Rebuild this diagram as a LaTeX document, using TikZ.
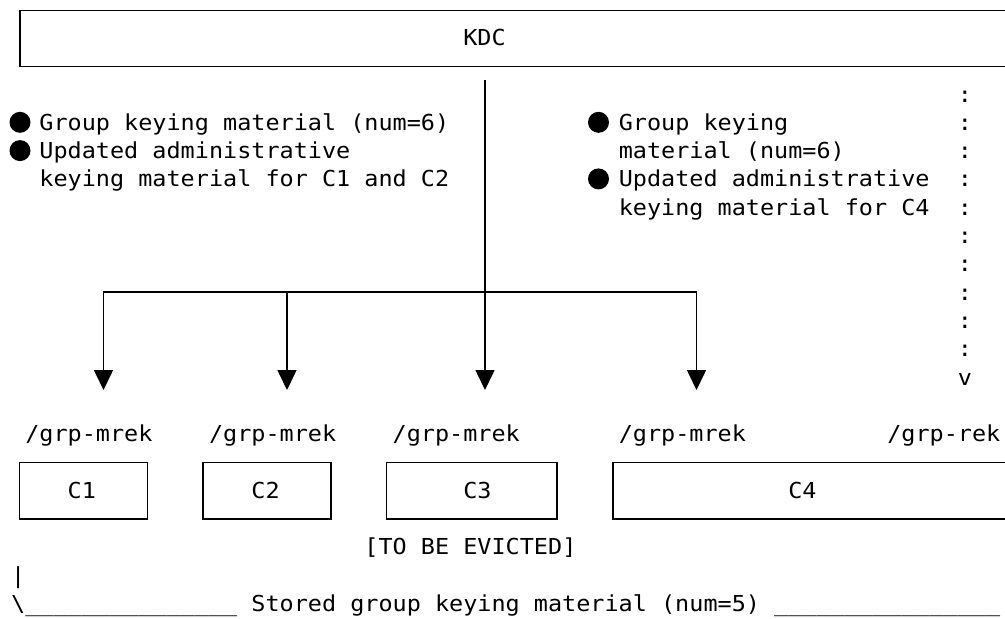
\documentclass[tikz,border=0pt]{standalone}
\usepackage{fontspec}
\newfontfamily\monofam[FakeStretch=1.0668]{DejaVu Sans Mono}
\usetikzlibrary{arrows.meta}
\newcommand\GX[1]{11+14.13*(#1)}
\newcommand\GY[1]{102+28.3*(#1)}
\begin{document}
\begin{tikzpicture}[x=1pt,y=-1pt,
  txt/.style={font=\monofam\fontsize{22}{28}\selectfont, inner sep=0pt, anchor=base west},
  box/.style={draw, line width=1.5pt, inner sep=0pt, anchor=north west},
  conn/.style={line width=1.6pt},
  tipA/.style={-{Triangle[width=19pt,length=20pt]}},
  tipB/.style={{Triangle[width=19pt,length=20pt]}-{Triangle[width=19pt,length=20pt]}},
  bul/.style={circle, fill=black, draw=none, inner sep=0pt, minimum size=21pt}]
\useasboundingbox (0,0) rectangle (1005,619);
% boxes
\node[box, minimum width=1000pt, minimum height=56.2pt] (kdc) at (19,9.5) {};
\node[txt] (kdclabel) at ({\GX{32}},{\GY{-2}}) {KDC};
\node[box, minimum width=128.2pt, minimum height=56.6pt] (c1) at (18.5,461.7) {};
\node[box, minimum width=127.7pt, minimum height=56.6pt] (c2) at (202.3,461.7) {};
\node[box, minimum width=170.3pt, minimum height=56.6pt] (c3) at (385.7,461.7) {};
\node[box, minimum width=420pt, minimum height=56.6pt] (c4) at (612.3,461.7) {};
\node[txt] (c1label) at ({\GX{4}},{\GY{14}}) {C1};
\node[txt] (c2label) at ({\GX{17}},{\GY{14}}) {C2};
\node[txt] (c3label) at ({\GX{32}},{\GY{14}}) {C3};
\node[txt] (c4label) at ({\GX{55}},{\GY{14}}) {C4};
% connectors
\coordinate (src) at (485,80);
\coordinate (hl) at (103.5,292);
\coordinate (hr) at (696.5,292);
\coordinate (t1) at (103.5,390);
\coordinate (t2) at (287,390);
\coordinate (t3) at (485,390);
\coordinate (t4) at (696.5,390);
\draw[conn,tipB] (t1) -- (hl) -- (hr) -- (t4);
\draw[conn,tipA] (t2 |- hl) -- (t2);
\draw[conn,tipA] (src) -- (t3);
% left bullet text
\node[bul] (bl1) at (20,{\GY{1}-8}) {};
\node[bul] (bl2) at (20,{\GY{2}-8}) {};
\node[txt] (l1) at ({\GX{2}},{\GY{1}}) {Group keying material (num=6)};
\node[txt] (l2) at ({\GX{2}},{\GY{2}}) {Updated administrative};
\node[txt] (l3) at ({\GX{2}},{\GY{3}}) {keying material for C1 and C2};
% right bullet text
\node[bul] (br1) at (598.5,{\GY{1}-8}) {};
\node[bul] (br2) at (598.5,{\GY{3}-8}) {};
\node[txt] (r1) at ({\GX{43}},{\GY{1}}) {Group keying};
\node[txt] (r2) at ({\GX{43}},{\GY{2}}) {material (num=6)};
\node[txt] (r3) at ({\GX{43}},{\GY{3}}) {Updated administrative};
\node[txt] (r4) at ({\GX{43}},{\GY{4}}) {keying material for C4};
% dotted column
\foreach \r in {0,...,9} {
  \node[txt] (colon\r) at ({\GX{67}},{\GY{\r}}) {:};
}
\node[txt] (vmark) at ({\GX{67}},{\GY{10}}) {v};
% resource labels
\node[txt] (g1) at ({\GX{1}},{\GY{12}}) {/grp-mrek};
\node[txt] (g2) at ({\GX{14}},{\GY{12}}) {/grp-mrek};
\node[txt] (g3) at ({\GX{27}},{\GY{12}}) {/grp-mrek};
\node[txt] (g4) at ({\GX{43}},{\GY{12}}) {/grp-mrek};
\node[txt] (g5) at ({\GX{62}},{\GY{12}}) {/grp-rek};
\node[txt] (evict) at ({\GX{25}},{\GY{16}}) {[TO BE EVICTED]};
\node[txt] (bar) at ({\GX{0}},{\GY{17}}) {|};
\node[txt] (stored) at ({\GX{0}},{\GY{18}}) {\textbackslash\_\_\_\_\_\_\_\_\_\_\_\_\_\_\_ Stored group keying material (num=5) \_\_\_\_\_\_\_\_\_\_\_\_\_\_\_\_};
\end{tikzpicture}
\end{document}
